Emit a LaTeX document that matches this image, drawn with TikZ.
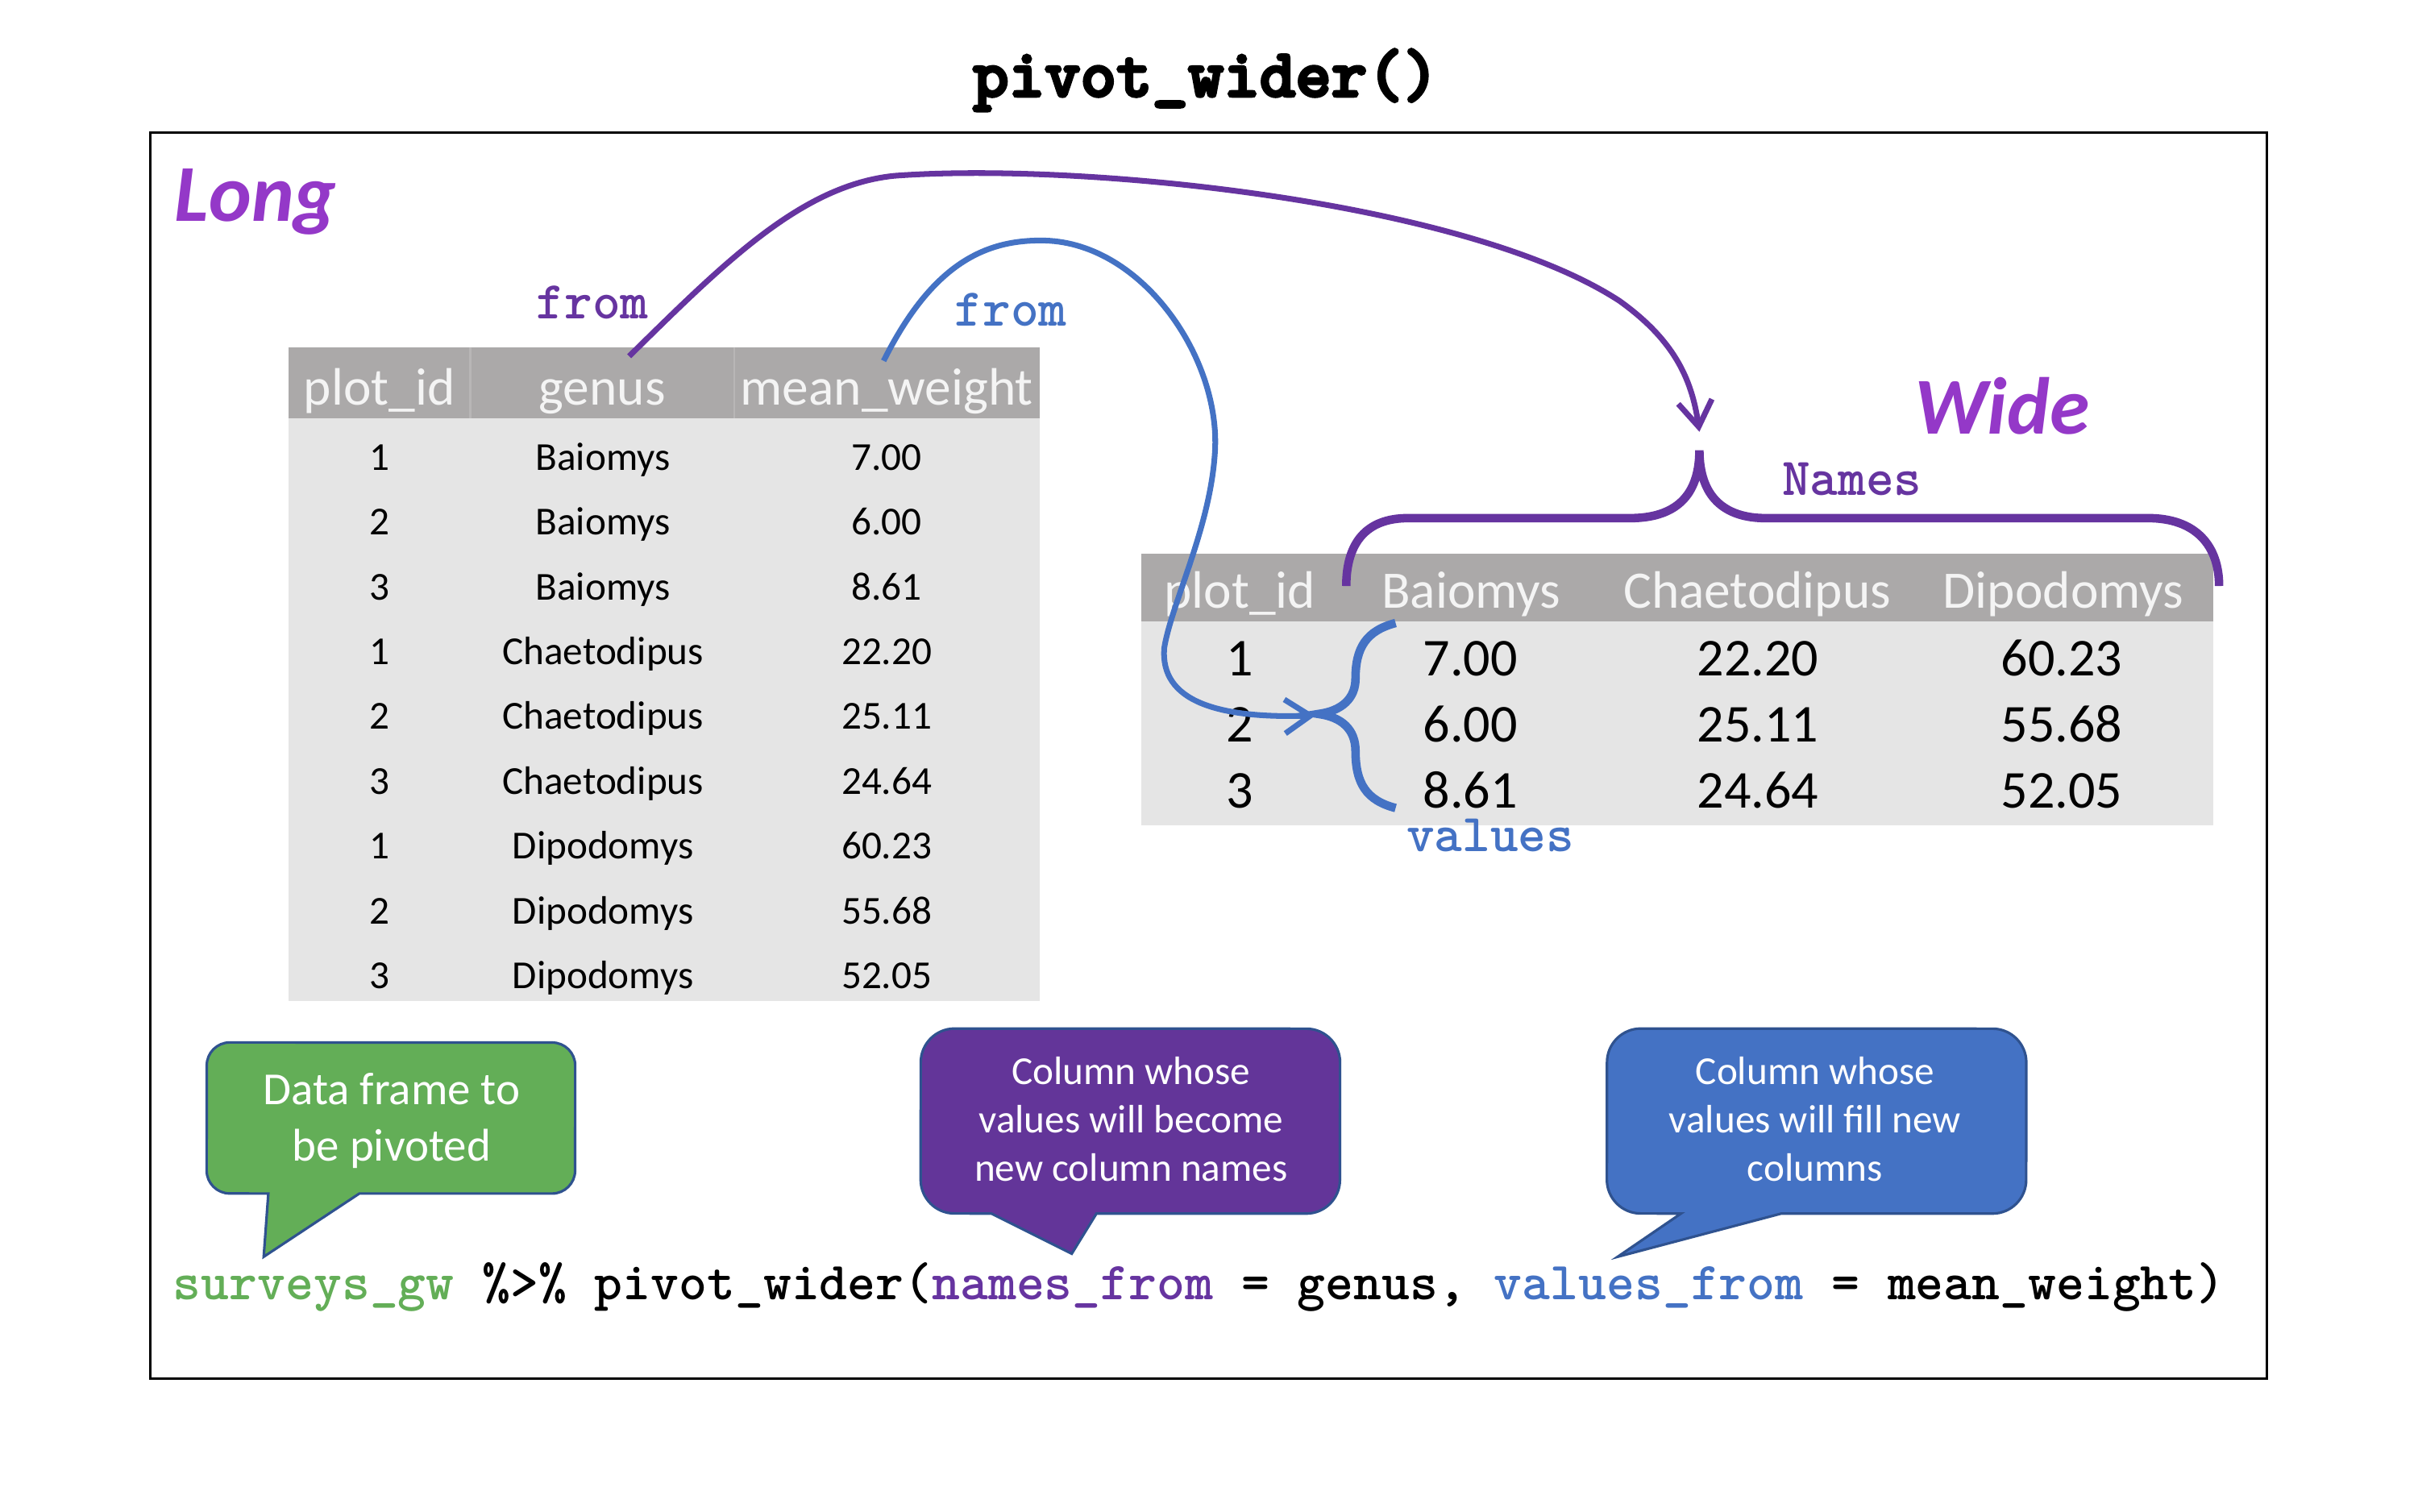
\documentclass[tikz,border=0pt]{standalone}
\usepackage{fontspec}
\newfontfamily\calfont{Carlito}
\newfontfamily\codefont{lmmonolt10-bold.otf}
\newfontfamily\titlefont{lmmonolt10-bold.otf}[FakeBold=4]
\usetikzlibrary{arrows.meta}
\definecolor{hdrgray}{HTML}{ABA9A9}
\definecolor{bodygray}{HTML}{E5E5E5}
\definecolor{hdrtext}{HTML}{F4F4F4}
\definecolor{lblpurple}{HTML}{9438C8}
\definecolor{dpurple}{HTML}{6634A0}
\definecolor{cpurple}{HTML}{633599}
\definecolor{cblue}{HTML}{4472C4}
\definecolor{cgreen}{HTML}{63AE57}
\definecolor{bedge}{HTML}{2F528F}
\definecolor{sepgray}{HTML}{B8B6B6}
\begin{document}
\begin{tikzpicture}[x=0.01913cm,y=-0.01913cm,
  hdr/.style={font=\calfont\fontsize{18.6}{22}\selectfont,text=hdrtext,inner sep=0pt,anchor=base},
  cell/.style={font=\calfont\fontsize{14}{17}\selectfont,inner sep=0pt,anchor=base},
  wcell/.style={font=\calfont\fontsize{18.8}{22}\selectfont,inner sep=0pt,anchor=base},
  mono/.style={font=\codefont\fontsize{18.8}{22}\selectfont,inner sep=0pt,anchor=base},
  biglbl/.style={font=\calfont\bfseries\itshape\fontsize{28.5}{32}\selectfont,text=lblpurple,inner sep=0pt,anchor=base west},
  bubbletext/.style={text=white,align=center,inner sep=0pt,anchor=base},
  bubble/.style={draw=bedge,line width=0.9pt},
  arr/.style={line width=2pt,-{Straight Barb[length=9pt,width=12pt]}},
  bracestroke/.style={line width=3pt}]
\useasboundingbox (0,0) rectangle (1568,980);
\fill[white] (0,0) rectangle (1568,980);

% title and frame
\node[font=\titlefont\fontsize{24.1}{26}\selectfont,inner sep=0pt,anchor=base] (title) at (782,62.5) {pivot\_wider()};
\draw[line width=1.1pt] (97.5,86) rectangle (1470,894);

% long table
\fill[hdrgray] (187,225) rectangle (674,271);
\fill[bodygray] (187,271) rectangle (674,649);
\draw[sepgray,line width=0.6pt] (305,225)--(305,271) (476,225)--(476,271);
\node[hdr] (Lh1) at (246,262.6) {plot\_id};
\node[hdr] (Lh2) at (390.5,262.6) {genus};
\node[hdr] (Lh3) at (575,262.6) {mean\_weight};
\foreach \p/\g/\w [count=\i] in {1/Baiomys/7.00,2/Baiomys/6.00,3/Baiomys/8.61,1/Chaetodipus/22.20,2/Chaetodipus/25.11,3/Chaetodipus/24.64,1/Dipodomys/60.23,2/Dipodomys/55.68,3/Dipodomys/52.05}{
  \pgfmathsetmacro{\yy}{305+42*(\i-1)}
  \node[cell] (Lp\i) at (246,\yy) {\p};
  \node[cell] (Lg\i) at (391,\yy) {\g};
  \node[cell] (Lw\i) at (575,\yy) {\w};
}

% wide table
\fill[hdrgray] (740,359) rectangle (1435,403);
\fill[bodygray] (740,403) rectangle (1435,535);
\node[hdr] (Wh1) at (804,394.6) {plot\_id};
\node[hdr] (Wh2) at (954,394.6) {Baiomys};
\node[hdr] (Wh3) at (1139.5,394.6) {Chaetodipus};
\node[hdr] (Wh4) at (1338,394.6) {Dipodomys};
\foreach \p/\a/\b/\c [count=\i] in {1/7.00/22.20/60.23,2/6.00/25.11/55.68,3/8.61/24.64/52.05}{
  \pgfmathsetmacro{\yy}{438+43*(\i-1)}
  \node[wcell] (Wp\i) at (804,\yy) {\p};
  \node[wcell] (Wa\i) at (953.5,\yy) {\a};
  \node[wcell] (Wb\i) at (1140,\yy) {\b};
  \node[wcell] (Wc\i) at (1337,\yy) {\c};
}

% labels
\node[biglbl] (long) at (113,143.5) {Long};
\node[biglbl] (wide) at (1241,281.4) {Wide};
\node[mono,text=dpurple] (fromg) at (384.3,206.6) {from};
\node[mono,text=cblue] (fromw) at (655.5,211.2) {from};
\node[mono,text=dpurple] (names) at (1201,321) {Names};
\node[mono,text=cblue] (values) at (966.5,552) {values};

% braces
\coordinate (ncenter) at (1102,292);
\draw[bracestroke,dpurple] (873,380) .. controls (873,352) and (886,336) .. (913,336) -- (1057,336) .. controls (1086,336) and (1102,322) .. (ncenter) .. controls (1102,322) and (1118,336) .. (1145,336) -- (1393,336) .. controls (1424,336) and (1439,354) .. (1439,380);
\coordinate (vcenter) at (855,463);
\draw[bracestroke,cblue] (905,404) .. controls (886,409) and (879,420) .. (879,440) .. controls (879,453) and (870,461) .. (vcenter) .. controls (870,465) and (879,473) .. (879,487) .. controls (879,508) and (886,519) .. (905,524);

% arrows
\coordinate (gstart) at (408,231);
\coordinate (ntip) at (1102,280);
\draw[arr,dpurple] (gstart) .. controls (470,170) and (520,120) .. (580,114) .. controls (700,105) and (950,130) .. (1050,195) .. controls (1085,220) and (1097,245) .. (ntip);
\coordinate (wstart) at (573,234);
\coordinate (vtip) at (853,464);
\draw[arr,cblue] (wstart) .. controls (605,170) and (640,155) .. (678,156) .. controls (740,158) and (790,230) .. (788,290) .. controls (786,340) and (760,390) .. (755,420) .. controls (752,455) and (790,466) .. (vtip);

% callouts
\draw[bubble,fill=cgreen] (174,774) -- (171,815) -- (233,774) -- (358,774) arc[start angle=-90,end angle=0,radius=8.13pt] -- (373,691) arc[start angle=0,end angle=90,radius=8.13pt] -- (149,676) arc[start angle=90,end angle=180,radius=8.13pt] -- (134,759) arc[start angle=180,end angle=270,radius=8.13pt] -- cycle;
\draw[bubble,fill=cpurple] (711,787) -- (847,787) arc[start angle=-90,end angle=0,radius=11.93pt] -- (869,689) arc[start angle=0,end angle=90,radius=11.93pt] -- (619,667) arc[start angle=90,end angle=180,radius=11.93pt] -- (597,765) arc[start angle=180,end angle=270,radius=11.93pt] -- (643,787) -- (695,813) -- cycle;
\draw[bubble,fill=cblue] (1155,787) -- (1292,787) arc[start angle=-90,end angle=0,radius=11.93pt] -- (1314,689) arc[start angle=0,end angle=90,radius=11.93pt] -- (1064,667) arc[start angle=90,end angle=180,radius=11.93pt] -- (1042,765) arc[start angle=180,end angle=270,radius=11.93pt] -- (1090,787) -- (1049,815) -- cycle;
\node[bubbletext,font=\calfont\fontsize{16.2}{20}\selectfont] (greentext) at (254,753) {Data frame to\\be pivoted};
\node[bubbletext,font=\calfont\fontsize{14}{17.1}\selectfont] (purpletext) at (733.5,765.8) {Column whose\\values will become\\new column names};
\node[bubbletext,font=\calfont\fontsize{14}{17.1}\selectfont] (bluetext) at (1177,765.8) {Column whose\\values will fill new\\columns};

% code line
\node[font=\codefont\fontsize{18.9}{22}\selectfont,inner sep=0pt,anchor=base west] (code) at (112,843) {\textcolor{cgreen}{surveys\_gw} \%>\% pivot\_wider(\textcolor{dpurple}{names\_from} = genus, \textcolor{cblue}{values\_from} = mean\_weight)};
\end{tikzpicture}
\end{document}
